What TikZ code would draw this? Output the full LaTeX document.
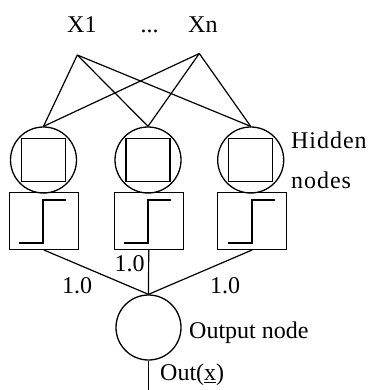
\documentclass[tikz,border=0pt]{standalone}
\usepackage{fontspec}
\setmainfont{Liberation Serif}
\begin{document}
\begin{tikzpicture}[x=1pt,y=-1pt,
  every node/.style={font=\fontsize{24}{28}\selectfont, inner sep=0pt},
  link/.style={line width=1.2pt},
  hcirc/.style={circle, draw, line width=1.3pt, minimum size=66pt},
  sq/.style={rectangle, draw, line width=1.3pt, minimum width=44pt, minimum height=43pt},
  stepbox/.style={rectangle, draw, line width=1.3pt, minimum width=69pt, minimum height=56.6pt},
  stepline/.style={line width=2.2pt},
  ocirc/.style={circle, draw, line width=1.3pt, minimum size=65pt},
  lbl/.style={anchor=base west},
  spaced/.style={font=\fontsize{24}{28}\selectfont\addfontfeature{LetterSpace=4}}
]
\useasboundingbox (0,0) rectangle (371,390);

% inputs
\node[lbl] (tx1) at (67,33) {X1};
\node[anchor=base] (tdots) at (149.5,33) {...};
\node[lbl] (txn) at (188,33) {Xn};
\coordinate (x1) at (77.3,55);
\coordinate (xn) at (199.3,53.5);

% hidden layer
\foreach \i/\cx in {1/43.5, 2/148, 3/250.7} {
  \node[hcirc] (h\i) at (\cx,160) {};
  \node[sq] (s\i) at (h\i.center) {};
}
\foreach \i/\cx in {1/43.8, 2/148.7, 3/252.2} {
  \node[stepbox] (b\i) at (\cx,221) {};
  \draw[stepline] ([xshift=-24.5pt,yshift=-21.7pt]b\i.center)
    -| ([xshift=-0.5pt,yshift=21pt]b\i.center)
    -- ([xshift=22.3pt,yshift=21pt]b\i.center);
}

% input connections
\foreach \i in {1,2,3} {
  \draw[link] (x1) -- (h\i.north);
  \draw[link] (xn) -- (h\i.north);
}

\node[lbl, spaced] (thid) at (291,149) {Hidden};
\node[lbl, spaced] (tnod) at (291,188.3) {nodes};

% output node
\node[ocirc] (out) at (148.5,327.5) {};
\coordinate (outend) at (148.5,390);
\foreach \i in {1,2,3} {
  \draw[link] (b\i.south) -- (out.north);
}
\draw[link] (out.south) -- (outend);

% weights
\node[lbl] (w1) at (62,293.3) {1.0};
\node[lbl] (w2) at (114.5,271.7) {1.0};
\node[lbl] (w3) at (210,293.3) {1.0};

\node[lbl] (tout) at (189,338.5) {Output node};
\node[lbl] (tres) at (160,380.5) {Out(\underline{x})};
\end{tikzpicture}
\end{document}
